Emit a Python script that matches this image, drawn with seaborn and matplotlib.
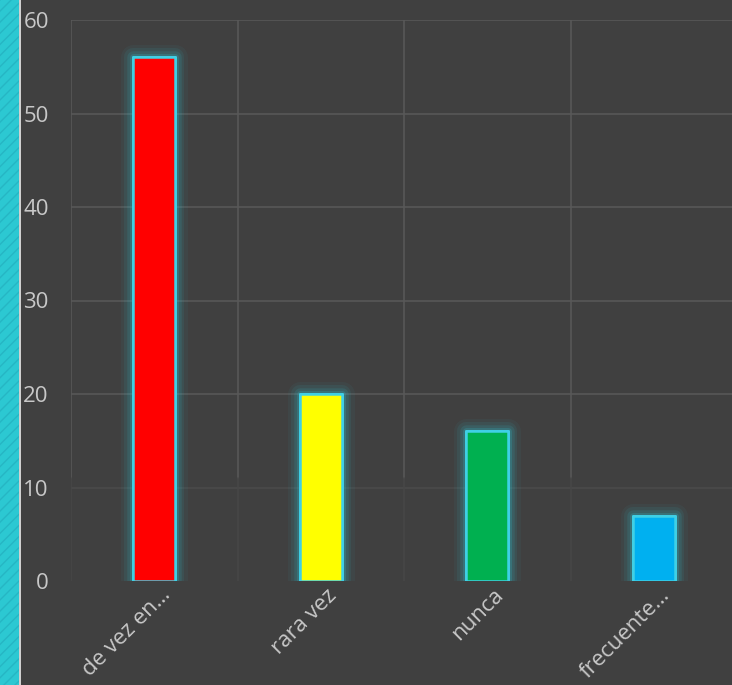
import matplotlib
matplotlib.use("Agg")
import matplotlib.pyplot as plt
import matplotlib.patheffects as pe
import matplotlib.transforms as mtransforms
from matplotlib.patches import Rectangle
import seaborn as sns
import pandas as pd

categories = ["de vez en…", "rara vez", "nunca", "frecuente…"]
values = [56, 20, 16, 7]
colors = ["#ff0000", "#ffff00", "#00b050", "#00b0f0"]
yticks = [0, 10, 20, 30, 40, 50, 60]

df = pd.DataFrame({"cat": categories, "val": values})

sns.set_theme(style="dark")
plt.rcParams["font.family"] = ["Open Sans", "DejaVu Sans"]

W, H = 732, 685
fig = plt.figure(figsize=(W / 100, H / 100), dpi=100)
fig.patch.set_facecolor("#404040")

# left decorative stripe
fig.patches.append(Rectangle((0, 0), 19 / W, 1, transform=fig.transFigure,
                             facecolor="#2cc8d2", edgecolor="#26b6c4", hatch="///",
                             linewidth=0, zorder=0))
fig.patches.append(Rectangle((19 / W, 0), 2 / W, 1, transform=fig.transFigure,
                             facecolor="#d0d0d0", edgecolor="none", zorder=0))

ax = fig.add_axes([71 / W, (H - 581) / H, 666 / W, 561 / H])
ax.set_facecolor("#404040")
ax.grid(False)

# grid (fades toward the bottom like the reference)
for yv in yticks[2:]:
    ax.axhline(yv, color="#585858", linewidth=1.2, zorder=0)
ax.axhline(10, color="#4a4a4a", linewidth=1.2, zorder=0)
for xv in [-0.5, 0.5, 1.5, 2.5, 3.5]:
    ax.axvline(xv, ymin=11 / 60, ymax=1, color="#585858", linewidth=1.2, zorder=0)
    ax.axvline(xv, ymin=0, ymax=11 / 60, color="#474747", linewidth=1.2, zorder=0)

sns.barplot(data=df, x="cat", y="val", hue="cat", palette=colors, legend=False,
            width=0.25, saturation=1, ax=ax, edgecolor="#3fd0e6", linewidth=1.8, zorder=3)
glow = "#2ec6d6"
for p in ax.patches:
    p.set_joinstyle("round")
    p.set_path_effects([pe.withStroke(linewidth=18, foreground=glow, alpha=0.05),
                        pe.withStroke(linewidth=13, foreground=glow, alpha=0.08),
                        pe.withStroke(linewidth=9, foreground=glow, alpha=0.12),
                        pe.withStroke(linewidth=5, foreground=glow, alpha=0.2),
                        pe.Normal()])

ax.set_ylim(0, 60)
ax.set_xlim(-0.5, 3.5)
ax.set_yticks(yticks)
ax.set_yticklabels([str(t) for t in yticks])
ax.set_xlabel("")
ax.set_ylabel("")
for s in ax.spines.values():
    s.set_visible(False)

ax.set_xticks([0, 1, 2, 3])
ax.set_xticklabels(categories)
ax.tick_params(axis="x", length=0, labelsize=16, labelcolor="#c8c8c8", pad=8)
ax.tick_params(axis="y", length=0, labelsize=16, labelcolor="#c8c8c8", pad=16)
offset = mtransforms.ScaledTranslation(13 / 100, 0, fig.dpi_scale_trans)
for lbl in ax.get_xticklabels():
    lbl.set_rotation(45)
    lbl.set_ha("right")
    lbl.set_rotation_mode("anchor")
    lbl.set_va("center")
    lbl.set_transform(lbl.get_transform() + offset)

fig.savefig("out.png", dpi=100, facecolor=fig.get_facecolor())
